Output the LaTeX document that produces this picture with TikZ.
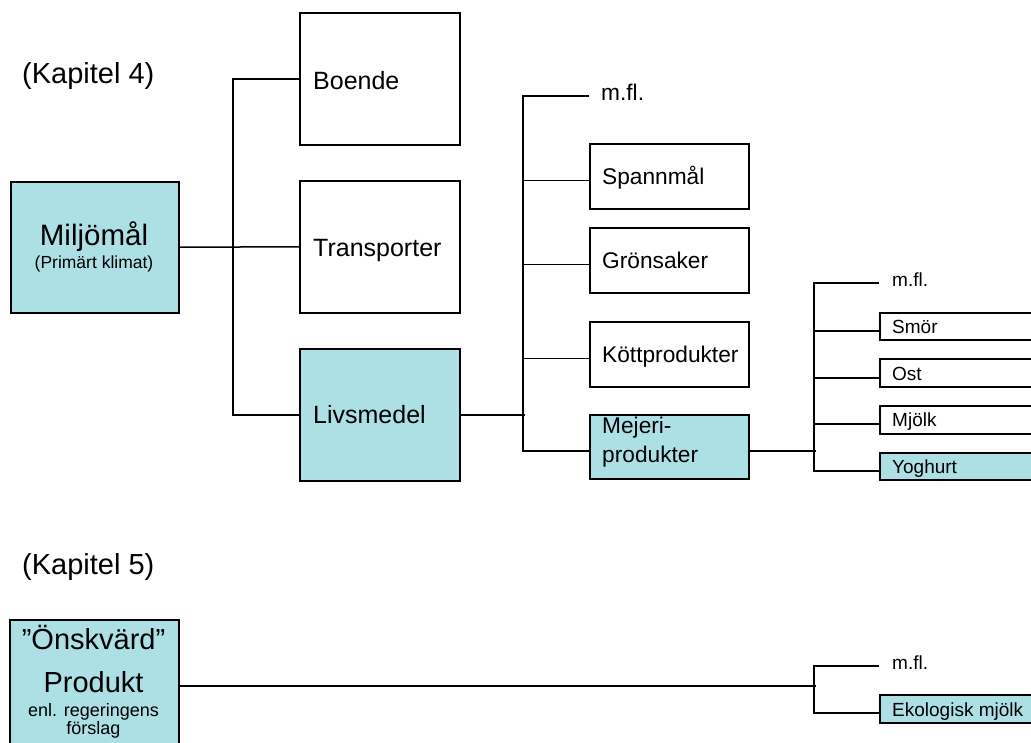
\documentclass[tikz,border=0pt]{standalone}
\usepackage{fontspec}
\setmainfont{Liberation Sans}
\definecolor{boxcyan}{RGB}{173,224,228}
\begin{document}
\begin{tikzpicture}[x=1pt,y=-1pt,
  box/.style={draw=black, line width=1.5pt, rectangle, inner sep=0pt, anchor=north west},
  cyanbox/.style={box, fill=boxcyan},
  lbl/.style={inner sep=0pt, anchor=base west},
  ctr/.style={inner sep=0pt, anchor=base},
  conn/.style={line width=1.5pt, black, line join=miter},
  fbig/.style={font=\fontsize{29}{34}\selectfont},
  fmid/.style={font=\fontsize{25}{30}\selectfont},
  fsml/.style={font=\fontsize{22.7}{28}\selectfont},
  ftin/.style={font=\fontsize{19}{23}\selectfont},
  fsub/.style={font=\fontsize{17.5}{21}\selectfont}]
\useasboundingbox (0,0) rectangle (1031,742);
\clip (0,0) rectangle (1031,742);
\fill[white] (0,0) rectangle (1031,742);

% titles
\node[lbl, fbig] (kap4) at (22,83) {(Kapitel 4)};
\node[lbl, fbig] (kap5) at (22,574) {(Kapitel 5)};

% connectors level 1-2
\coordinate (bus1a) at (233,246);

% level 1
\node[cyanbox, minimum width=168pt, minimum height=131pt] (miljo) at (10,181) {};
\node[ctr, font=\fontsize{29.5}{34}\selectfont] (miljoT) at (94,245) {Miljömål};
\node[ctr, fsub] (miljoS) at (94,268) {(Primärt klimat)};

% level 2
\node[box, minimum width=160pt, minimum height=132pt] (boende) at (299,12) {};
\node[box, minimum width=160pt, minimum height=132pt] (transp) at (299,180) {};
\node[cyanbox, minimum width=160pt, minimum height=132pt] (livs) at (299,348) {};
\node[lbl, fmid] (boendeT) at (313,89) {Boende};
\node[lbl, fmid] (transpT) at (313,256) {Transporter};
\node[lbl, fmid] (livsT) at (313,423) {Livsmedel};

% level 3
\coordinate (m1end) at (589,96);
\node[lbl, fsml] (mfl1) at (601,100) {m.fl.};
\node[box, minimum width=159pt, minimum height=65pt] (spann) at (589,143) {};
\node[box, minimum width=159pt, minimum height=65pt] (gron) at (589,227) {};
\node[box, minimum width=159pt, minimum height=65pt] (kott) at (589,321) {};
\node[cyanbox, minimum width=159pt, minimum height=64pt] (mejeri) at (589,414) {};
\node[lbl, fsml] (spannT) at (602,184) {Spannmål};
\node[lbl, fsml] (gronT) at (602,268) {Grönsaker};
\node[lbl, fsml] (kottT) at (602,362) {Köttprodukter};
\node[lbl, fsml] (mejeriT1) at (602,433) {Mejeri-};
\node[lbl, fsml] (mejeriT2) at (602,462) {produkter};

% level 4
\coordinate (m2end) at (879,283);
\node[lbl, ftin] (mfl2) at (892,286) {m.fl.};
\node[box, minimum width=200pt, minimum height=27pt] (smor) at (879,312) {};
\node[box, minimum width=200pt, minimum height=28pt] (ost) at (879,358) {};
\node[box, minimum width=200pt, minimum height=28pt] (mjolk) at (879,405) {};
\node[cyanbox, minimum width=200pt, minimum height=27pt] (yog) at (879,452) {};
\node[lbl, ftin] (smorT) at (892,333) {Smör};
\node[lbl, ftin] (ostT) at (892,380) {Ost};
\node[lbl, ftin] (mjolkT) at (892,426) {Mjölk};
\node[lbl, ftin] (yogT) at (892,473) {Yoghurt};

% bottom part
\node[cyanbox, minimum width=169pt, minimum height=132pt] (onsk) at (9,619) {};
\node[ctr, fbig] (onskT1) at (93.5,649) {”Önskvärd”};
\node[ctr, fbig] (onskT2) at (93.5,692) {Produkt};
\node[ctr, font=\fontsize{18}{22}\selectfont] (onskT3) at (93.5,716) {enl. regeringens};
\node[ctr, font=\fontsize{18}{22}\selectfont] (onskT4) at (93.5,734) {förslag};
\coordinate (m3end) at (879,666);
\node[lbl, ftin] (mfl3) at (892,669) {m.fl.};
\node[cyanbox, minimum width=200pt, minimum height=28pt] (eko) at (879,694) {};
\node[lbl, ftin] (ekoT) at (892,716) {Ekologisk mjölk};

% connectors level 1-2
\draw[conn] (miljo.east) -- (transp.west);
\draw[conn] (boende.west) -- ++(-66,0) |- (livs.west);

% connectors level 2-3
\draw[conn] (livs.east) -- ++(64,0);
\draw[conn] (m1end) -- ++(-66,0) |- ([yshift=-4pt]mejeri.west);
\draw[conn] ([yshift=-4pt]spann.west) -- ++(-66,0);
\draw[conn] ([yshift=-4pt]gron.west) -- ++(-66,0);
\draw[conn] ([yshift=-4pt]kott.west) -- ++(-66,0);

% connectors level 3-4
\draw[conn] ([yshift=-4pt]mejeri.east) -- ++(66,0);
\draw[conn] (m2end) -- ++(-65,0) |- ([yshift=-4.5pt]yog.west);
\draw[conn] ([yshift=-4.5pt]smor.west) -- ++(-65,0);
\draw[conn] ([yshift=-5pt]ost.west) -- ++(-65,0);
\draw[conn] ([yshift=-4pt]mjolk.west) -- ++(-65,0);

% bottom connectors
\draw[conn] (onsk.east) -- ++(636,0);
\draw[conn] (m3end) -- ++(-65,0) |- ([yshift=-4pt]eko.west);
\end{tikzpicture}
\end{document}
